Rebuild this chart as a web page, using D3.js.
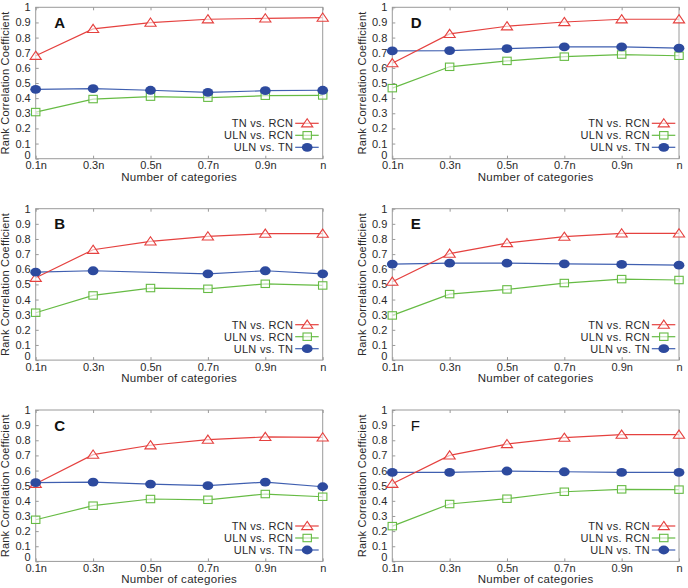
<!DOCTYPE html>
<html>
<head>
<meta charset="utf-8">
<script src="https://cdn.jsdelivr.net/npm/d3@7"></script>
<style>
  html, body { margin: 0; padding: 0; background: #fff; }
  svg { display: block; font-family: "Liberation Sans", Arial, sans-serif; }
</style>
</head>
<body>
<svg id="chart" width="688" height="588"></svg>
<script>
// ---------------- data ----------------
const categories = ["0.1n", "0.3n", "0.5n", "0.7n", "0.9n", "n"];
const yTickValues = [0, 0.1, 0.2, 0.3, 0.4, 0.5, 0.6, 0.7, 0.8, 0.9, 1];
const yTickLabels = ["0", "0.1", "0.2", "0.3", "0.4", "0.5", "0.6", "0.7", "0.8", "0.9", "1"];
const seriesNames = ["TN vs. RCN", "ULN vs. RCN", "ULN vs. TN"];
const panelLabels = ["A", "B", "C", "D", "E", "F"];
const xTitle = "Number of categories";
const yTitle = "Rank Correlation Coefficient";

// Panel A
const tnRcnA  = [0.68, 0.857, 0.899, 0.921, 0.927, 0.932];
const ulnRcnA = [0.308, 0.394, 0.41, 0.403, 0.416, 0.418];
const ulnTnA  = [0.458, 0.463, 0.452, 0.438, 0.449, 0.452];
// Panel B (no point at 0.5n for ULN vs. TN)
const tnRcnB  = [0.544, 0.729, 0.784, 0.817, 0.835, 0.835];
const ulnRcnB = [0.313, 0.427, 0.476, 0.471, 0.504, 0.493];
const ulnTnB  = [0.581, 0.59, null, 0.57, 0.59, 0.57];
// Panel C
const tnRcnC  = [0.513, 0.705, 0.767, 0.804, 0.822, 0.819];
const ulnRcnC = [0.275, 0.368, 0.412, 0.407, 0.445, 0.427];
const ulnTnC  = [0.52, 0.524, 0.511, 0.5, 0.524, 0.493];
// Panel D
const tnRcnD  = [0.631, 0.824, 0.875, 0.903, 0.921, 0.921];
const ulnRcnD = [0.466, 0.607, 0.646, 0.674, 0.688, 0.68];
const ulnTnD  = [0.712, 0.714, 0.727, 0.738, 0.738, 0.73];
// Panel E
const tnRcnE  = [0.518, 0.703, 0.773, 0.815, 0.837, 0.837];
const ulnRcnE = [0.295, 0.436, 0.467, 0.509, 0.535, 0.529];
const ulnTnE  = [0.634, 0.64, 0.64, 0.636, 0.632, 0.627];
// Panel F
const tnRcnF  = [0.513, 0.7, 0.775, 0.817, 0.837, 0.837];
const ulnRcnF = [0.233, 0.379, 0.414, 0.46, 0.476, 0.474];
const ulnTnF  = [0.588, 0.588, 0.597, 0.592, 0.588, 0.588];

// ---------------- layout / style ----------------
const panelData = [
  [tnRcnA, ulnRcnA, ulnTnA],
  [tnRcnB, ulnRcnB, ulnTnB],
  [tnRcnC, ulnRcnC, ulnTnC],
  [tnRcnD, ulnRcnD, ulnTnD],
  [tnRcnE, ulnRcnE, ulnTnE],
  [tnRcnF, ulnRcnF, ulnTnF]
];
const colX = [[35.7, 322.7], [392.3, 679]];
const rowTop = [7.3, 208.7, 410];
const plotH = 151.4;
const lineColors = ["#e5413f", "#66bb44", "#3f5fb0"];
const markColors = ["#e5413f", "#66bb44", "#2d4a9e"];
const textColor = "#2a2a2a";
const frameColor = "#9a9a9a";

const svg = d3.select("#chart");

function drawMarker(g, type, cx, cy) {
  if (type === 0) {
    g.append("path")
      .attr("d", `M${cx},${cy - 4.6}L${cx + 5.6},${cy + 3.6}L${cx - 5.6},${cy + 3.6}Z`)
      .attr("fill", "#fff").attr("fill-opacity", 0.6)
      .attr("stroke", markColors[0]).attr("stroke-width", 1.1);
  } else if (type === 1) {
    g.append("rect")
      .attr("x", cx - 4.2).attr("y", cy - 3.7).attr("width", 8.4).attr("height", 7.4)
      .attr("fill", "#fff").attr("fill-opacity", 0.6)
      .attr("stroke", markColors[1]).attr("stroke-width", 1.1);
  } else {
    g.append("ellipse")
      .attr("cx", cx).attr("cy", cy).attr("rx", 5.4).attr("ry", 4.4)
      .attr("fill", markColors[2]);
  }
}

panelLabels.forEach((lab, i) => {
  const col = i < 3 ? 0 : 1;
  const row = i % 3;
  const [x0, x1] = colX[col];
  const top = rowTop[row];
  const bottom = top + plotH;

  const x = d3.scalePoint().domain(categories).range([x0, x1]).padding(0);
  const y = d3.scaleLinear().domain([0, 1]).range([bottom, top]);

  const g = svg.append("g");

  // frame
  g.append("rect")
    .attr("x", x0).attr("y", top).attr("width", x1 - x0).attr("height", plotH)
    .attr("fill", "none").attr("stroke", frameColor).attr("stroke-width", 1);

  // axes
  const yAxis = g.append("g").attr("transform", `translate(${x0},0)`)
    .call(d3.axisLeft(y).tickValues(yTickValues)
      .tickFormat((d, k) => yTickLabels[k]).tickSize(-3).tickPadding(5));
  const xAxis = g.append("g").attr("transform", `translate(0,${bottom})`)
    .call(d3.axisBottom(x).tickSize(-3).tickPadding(3));
  const xTop = g.append("g").attr("transform", `translate(0,${top})`)
    .call(d3.axisTop(x).tickSize(-3).tickFormat(""));
  [yAxis, xAxis, xTop].forEach(a => {
    a.select(".domain").remove();
    a.selectAll(".tick line").attr("stroke", frameColor);
    a.selectAll("text").attr("fill", textColor).attr("font-size", 11)
      .attr("font-family", "Liberation Sans, Arial, sans-serif");
  });
  // lift the "0" label a little so it clears "0.1n"
  yAxis.selectAll(".tick text").filter(d => d === 0).attr("dy", "-0.05em");

  // axis titles
  g.append("text")
    .attr("x", (x0 + x1) / 2).attr("y", bottom + 22)
    .attr("text-anchor", "middle").attr("font-size", 11.5).attr("fill", textColor)
    .attr("letter-spacing", 0.3)
    .text(xTitle);
  g.append("text")
    .attr("transform", `translate(${x0 - 26.5},${(top + bottom) / 2}) rotate(-90)`)
    .attr("text-anchor", "middle").attr("font-size", 11).attr("fill", textColor)
    .attr("letter-spacing", 0.2)
    .text(yTitle);

  // panel letter
  g.append("text")
    .attr("x", x0 + 18.5).attr("y", top + 20.5)
    .attr("font-size", 15).attr("font-weight", lab === "F" ? "normal" : "bold")
    .attr("fill", "#111")
    .text(lab);

  // series lines (blue, green, red) then markers
  const data = panelData[i];
  const line = d3.line().x(d => x(d.c)).y(d => y(d.v));
  [2, 1, 0].forEach(s => {
    const pts = data[s].map((v, k) => ({ c: categories[k], v })).filter(d => d.v !== null);
    g.append("path").datum(pts)
      .attr("d", line)
      .attr("fill", "none").attr("stroke", lineColors[s]).attr("stroke-width", 1.2);
  });
  [0, 1, 2].forEach(s => {
    data[s].forEach((v, k) => {
      if (v === null) return;
      drawMarker(g, s, x(categories[k]), y(v));
    });
  });

  // legend
  const legRows = [top + 116, top + 128, top + 140];
  seriesNames.forEach((name, s) => {
    const ly = legRows[s];
    g.append("text")
      .attr("x", x0 + 257.6).attr("y", ly + 4)
      .attr("text-anchor", "end").attr("font-size", 11).attr("fill", textColor)
      .attr("letter-spacing", 0.3)
      .text(name);
    g.append("line")
      .attr("x1", x0 + 259.5).attr("x2", x0 + 283).attr("y1", ly).attr("y2", ly)
      .attr("stroke", lineColors[s]).attr("stroke-width", 1.2);
    drawMarker(g, s, x0 + 271.5, ly);
  });
});
</script>
</body>
</html>
